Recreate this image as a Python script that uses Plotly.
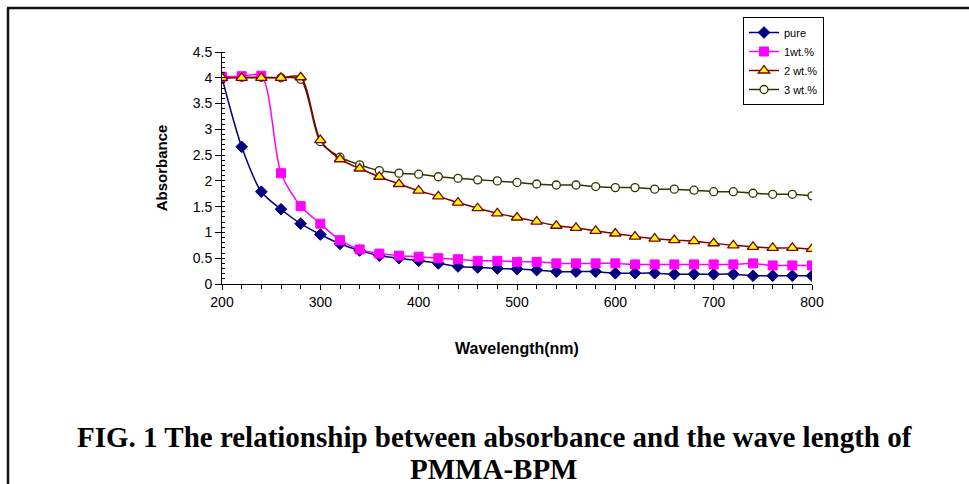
import plotly.graph_objects as go

wavelength = [200, 220, 240, 260, 280, 300, 320, 340, 360, 380, 400, 420, 440, 460, 480, 500,
              520, 540, 560, 580, 600, 620, 640, 660, 680, 700, 720, 740, 760, 780, 800]
pure = [4.00, 2.66, 1.79, 1.45, 1.17, 0.96, 0.78, 0.65, 0.55, 0.50, 0.45, 0.40, 0.34, 0.32, 0.30, 0.29,
        0.27, 0.24, 0.24, 0.24, 0.21, 0.21, 0.21, 0.19, 0.19, 0.19, 0.19, 0.16, 0.16, 0.16, 0.16]
wt1 = [4.02, 4.03, 4.04, 2.15, 1.51, 1.17, 0.85, 0.67, 0.59, 0.55, 0.53, 0.50, 0.48, 0.45, 0.45, 0.43,
       0.43, 0.40, 0.40, 0.40, 0.40, 0.38, 0.38, 0.38, 0.38, 0.38, 0.38, 0.40, 0.36, 0.36, 0.36]
wt2 = [4.00, 4.00, 4.00, 4.00, 4.01, 2.79, 2.42, 2.24, 2.08, 1.94, 1.81, 1.70, 1.58, 1.47, 1.37, 1.29,
       1.21, 1.13, 1.09, 1.03, 0.98, 0.92, 0.88, 0.85, 0.83, 0.79, 0.75, 0.72, 0.70, 0.70, 0.68]
wt3 = [4.00, 4.01, 4.01, 4.00, 3.97, 2.76, 2.46, 2.31, 2.20, 2.15, 2.13, 2.08, 2.05, 2.02, 2.00, 1.97,
       1.94, 1.92, 1.92, 1.89, 1.87, 1.87, 1.84, 1.84, 1.82, 1.79, 1.79, 1.76, 1.74, 1.74, 1.71]

series_names = ["pure", "1wt.%", "2 wt.%", "3 wt.%"]
x_title = "Wavelength(nm)"
y_title = "Absorbance"
caption_1 = "FIG. 1 The relationship between absorbance and the wave length of"
caption_2 = "PMMA-BPM"

W, H = 969, 484
L, R, T, B = 222, 157, 52, 200
pw, ph = W - L - R, H - T - B

def px(xp):
    return (xp - L) / pw

def py(yp):
    return (H - B - yp) / ph

fig = go.Figure()
fig.add_trace(go.Scatter(
    x=wavelength, y=pure, name=series_names[0], mode="lines+markers", legendrank=1,
    line=dict(color="#000080", width=1.5, shape="spline", smoothing=0.8),
    marker=dict(symbol="diamond", size=9, color="#000080", line=dict(color="#000080", width=1))))
fig.add_trace(go.Scatter(
    x=wavelength, y=wt3, name=series_names[3], mode="lines+markers", legendrank=4,
    line=dict(color="#333300", width=1.5, shape="spline", smoothing=0.8),
    marker=dict(symbol="circle", size=8, color="#FFFFFF", line=dict(color="#333300", width=1.3))))
fig.add_trace(go.Scatter(
    x=wavelength, y=wt1, name=series_names[1], mode="lines+markers", legendrank=2,
    line=dict(color="#FF00FF", width=1.5, shape="spline", smoothing=0.8),
    marker=dict(symbol="square", size=9, color="#FF00FF", line=dict(color="#FF00FF", width=1))))
fig.add_trace(go.Scatter(
    x=wavelength, y=wt2, name=series_names[2], mode="lines+markers", legendrank=3,
    line=dict(color="#800000", width=1.5, shape="spline", smoothing=0.8),
    marker=dict(symbol="triangle-up", size=10, color="#FFFF00", line=dict(color="#800000", width=1.3))))

axis_font = dict(family="Arial, Liberation Sans, sans-serif", size=14, color="#000000")
xtitle_font = dict(family="Arial, Liberation Sans, sans-serif", size=16, color="#000000", weight="bold")
ytitle_font = dict(family="Arial, Liberation Sans, sans-serif", size=15, color="#000000", weight="bold")

fig.update_layout(
    width=W, height=H,
    margin=dict(l=L, r=R, t=T, b=B, autoexpand=False),
    paper_bgcolor="#FFFFFF", plot_bgcolor="#FFFFFF",
    font=axis_font,
    showlegend=True,
    legend=dict(x=px(743), y=py(17), xanchor="left", yanchor="top",
                bordercolor="#000000", borderwidth=1, bgcolor="#FFFFFF",
                font=dict(family="Arial, Liberation Sans, sans-serif", size=11, color="#000000"),
                tracegroupgap=0, itemwidth=30),
    xaxis=dict(range=[200, 800], dtick=100, tick0=200, showgrid=False, zeroline=False,
               showline=True, linecolor="#000000", linewidth=1,
               ticks="outside", ticklen=5, tickcolor="#000000", tickfont=axis_font,
               minor=dict(dtick=20, ticks="outside", ticklen=4, tickcolor="#000000", showgrid=False),
               title=dict(text=x_title, font=xtitle_font, standoff=34)),
    yaxis=dict(range=[0, 4.5], dtick=0.5, tick0=0, showgrid=False, zeroline=False,
               showline=True, linecolor="#000000", linewidth=1,
               ticks="outside", ticklen=6, tickcolor="#000000", tickfont=axis_font,
               minor=dict(dtick=0.1, ticks="inside", ticklen=3, tickcolor="#000000", showgrid=False),
               title=dict(text=y_title, font=ytitle_font, standoff=21)),
)

cap_font = dict(family="Times New Roman, Liberation Serif, serif", size=29, color="#000000", weight="bold")
fig.add_annotation(text=caption_1, xref="paper", yref="paper", x=px(494), y=py(437),
                   xanchor="center", yanchor="middle", showarrow=False, font=cap_font)
fig.add_annotation(text=caption_2, xref="paper", yref="paper", x=px(494), y=py(469),
                   xanchor="center", yanchor="middle", showarrow=False, font=cap_font)

# page frame (left and top rules)
fig.add_shape(type="line", xref="paper", yref="paper", x0=px(8), x1=px(8), y0=py(8), y1=py(H + 5),
              line=dict(color="#111111", width=2.5))
fig.add_shape(type="line", xref="paper", yref="paper", x0=px(7), x1=px(W + 5), y0=py(8), y1=py(8),
              line=dict(color="#111111", width=2.5))

fig.write_html("out.html")
